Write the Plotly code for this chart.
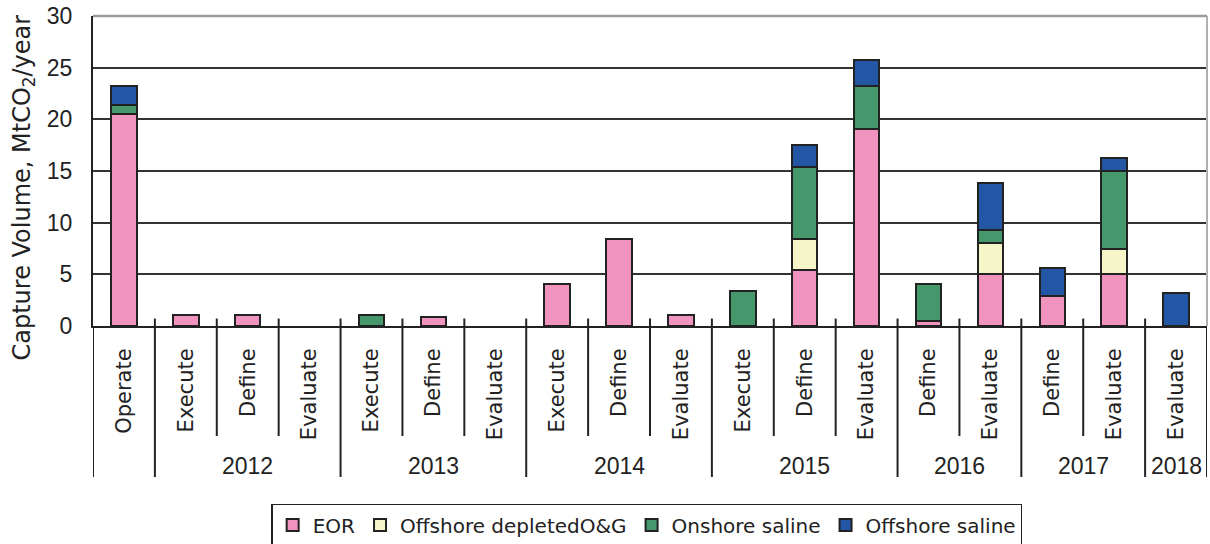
import plotly.graph_objects as go

# ---- data ----
phases = ["Operate",
          "Execute", "Define", "Evaluate",
          "Execute", "Define", "Evaluate",
          "Execute", "Define", "Evaluate",
          "Execute", "Define", "Evaluate",
          "Define", "Evaluate",
          "Define", "Evaluate",
          "Evaluate"]
years = ["", "2012", "2012", "2012", "2013", "2013", "2013", "2014", "2014", "2014",
         "2015", "2015", "2015", "2016", "2016", "2017", "2017", "2018"]

eor = [20.5, 1.1, 1.1, 0, 0, 0.9, 0, 4.1, 8.4, 1.1, 0, 5.4, 19.1, 0.5, 5.0, 2.9, 5.0, 0]
offshore_depleted = [0, 0, 0, 0, 0, 0, 0, 0, 0, 0, 0, 3.0, 0, 0, 3.0, 0, 2.5, 0]
onshore_saline = [0.9, 0, 0, 0, 1.1, 0, 0, 0, 0, 0, 3.4, 7.0, 4.1, 3.6, 1.3, 0, 7.5, 0]
offshore_saline = [1.8, 0, 0, 0, 0, 0, 0, 0, 0, 0, 0, 2.1, 2.5, 0, 4.5, 2.7, 1.3, 3.2]

series_names = ["EOR", "Offshore depletedO&G", "Onshore saline", "Offshore saline"]
series_values = [eor, offshore_depleted, onshore_saline, offshore_saline]
series_colors = ["#F093BE", "#F5F5C8", "#45986B", "#2456A6"]

x = list(range(len(phases)))

fig = go.Figure()
for name, vals, col in zip(series_names, series_values, series_colors):
    fig.add_trace(go.Bar(
        x=x, y=[v if v else None for v in vals], name=name,
        marker=dict(color=col, line=dict(color="#222222", width=2)),
    ))

# ---- category separators and group labels ----
n = len(phases)
shapes = []
bounds = [i - 0.5 for i in range(n + 1)]
for b in bounds:
    left = years[int(b - 0.5)] if b - 0.5 >= 0 else None
    right = years[int(b + 0.5)] if b + 0.5 < n else None
    is_group = (left is None) or (right is None) or (left != right)
    y_end = -0.487 if is_group else -0.355
    shapes.append(dict(type="line", xref="x", yref="paper", x0=b, x1=b,
                       y0=0.024 if 0 < b < n - 1 else 0, y1=y_end,
                       line=dict(color="#222222", width=2), layer="above"))

# top and right frame (gray)
shapes.append(dict(type="line", xref="paper", yref="paper", x0=0, x1=1, y0=1, y1=1,
                   line=dict(color="#9a9a9a", width=2.5), layer="above"))
shapes.append(dict(type="line", xref="paper", yref="paper", x0=1, x1=1, y0=0.0, y1=1,
                   line=dict(color="#b0b0b0", width=2), layer="above"))

annotations = []
groups = []
for i, yv in enumerate(years):
    if yv and (not groups or groups[-1][0] != yv):
        groups.append([yv, i, i])
    elif yv:
        groups[-1][2] = i
for yv, a, b in groups:
    annotations.append(dict(x=(a + b) / 2, y=-0.452, xref="x", yref="paper",
                            text=yv, showarrow=False, yanchor="middle",
                            font=dict(family="Liberation Sans", size=23, color="#222222")))

# y-axis title as annotation for precise placement
annotations.append(dict(x=-0.0625, y=0.448, xref="paper", yref="paper", textangle=-90,
                        text="Capture Volume, MtCO<sub>2</sub>/year", showarrow=False,
                        xanchor="center", yanchor="middle",
                        font=dict(family="DejaVu Sans", size=24, color="#222222")))

fig.update_layout(
    width=1210, height=544,
    margin=dict(l=93, r=3, t=16, b=218, autoexpand=False),
    paper_bgcolor="white", plot_bgcolor="white",
    barmode="stack", bargap=0.59,
    shapes=shapes, annotations=annotations,
    showlegend=True,
    legend=dict(orientation="h", x=0.497, xanchor="center", y=-0.574, yanchor="top",
                bordercolor="#222222", borderwidth=1.5, traceorder="normal",
                font=dict(family="DejaVu Sans", size=20, color="#222222"),
                itemwidth=30),
    xaxis=dict(range=[-0.5, n - 0.5], tickmode="array", tickvals=x, ticktext=phases,
               tickangle=-90, showgrid=False, zeroline=False, automargin=False,
               showline=True, linecolor="#222222", linewidth=2,
               ticks="outside", ticklen=12, tickcolor="rgba(0,0,0,0)",
               tickfont=dict(family="DejaVu Sans", size=21, color="#222222")),
    yaxis=dict(range=[0, 30], dtick=5, showgrid=True, gridcolor="#333333", gridwidth=1.5,
               zeroline=False, showline=True, linecolor="#222222", linewidth=2,
               automargin=False,
               ticks="outside", ticklen=14, tickcolor="rgba(0,0,0,0)",
               tickfont=dict(family="Liberation Sans", size=23, color="#222222")),
)

fig.write_html("out.html", config={"displayModeBar": False},
               post_script="document.body.style.margin='0';")
